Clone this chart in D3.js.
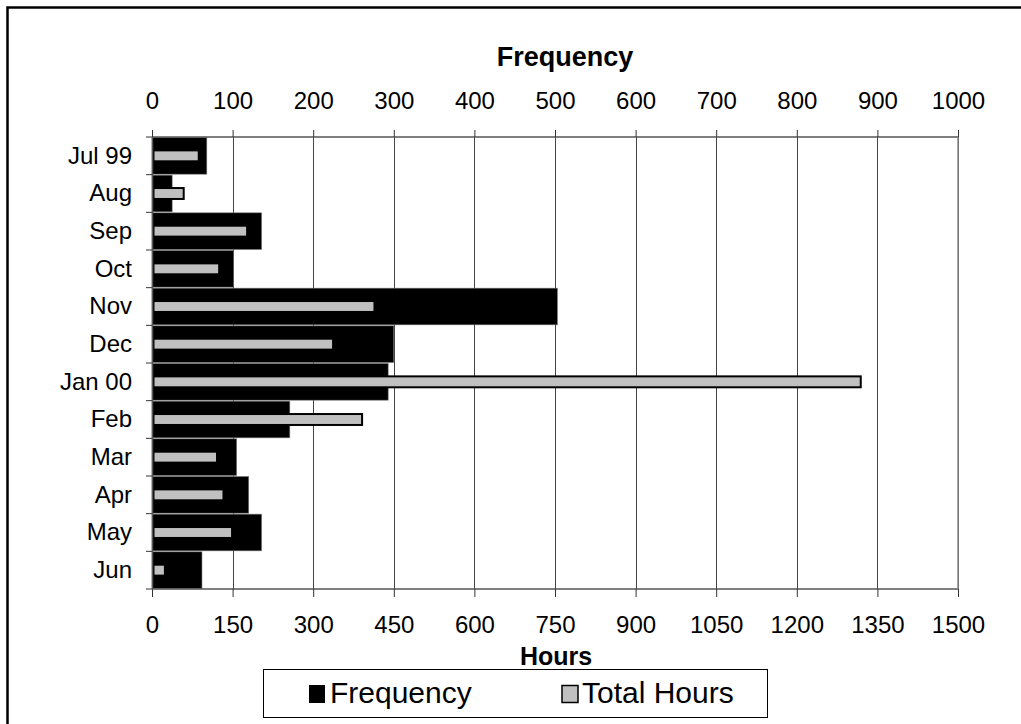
<!DOCTYPE html>
<html><head><meta charset="utf-8">
<script src="https://cdn.jsdelivr.net/npm/d3@7"></script>
<style>body{margin:0;background:#fff}svg{display:block}text{font-family:"Liberation Sans",Arial,sans-serif}</style>
</head><body>
<svg id="c" width="1021" height="724"></svg>
<script>
const categories = ["Jul 99","Aug","Sep","Oct","Nov","Dec","Jan 00","Feb","Mar","Apr","May","Jun"];
const frequency = [68, 25, 136, 101, 503, 300, 293, 171, 105, 120, 136, 62];
const totalHours = [87, 59, 177, 125, 414, 337, 1319, 391, 121, 133, 149, 24];
const freqTicks = [0,100,200,300,400,500,600,700,800,900,1000];
const hourTicks = [0,150,300,450,600,750,900,1050,1200,1350,1500];

(function(){
const svg = d3.select("#c");
const L = 152, R = 958, T = 137, B = 589;
const xF = d3.scaleLinear().domain([0,1000]).range([L,R]);
const xH = d3.scaleLinear().domain([0,1500]).range([L,R]);
const y = d3.scaleBand().domain(categories).range([T,B]).padding(0);

// outer frame
svg.append("rect").attr("x",7.5).attr("y",7.5).attr("width",1030).attr("height",740)
  .attr("fill","none").attr("stroke","#000").attr("stroke-width",2.5);

// gridlines
svg.append("g").selectAll("line").data(freqTicks.slice(1)).join("line")
  .attr("x1",d=>Math.round(xF(d))+0.5).attr("x2",d=>Math.round(xF(d))+0.5)
  .attr("y1",T).attr("y2",B).attr("stroke","#444").attr("stroke-width",1);

// black frequency bars
svg.append("g").selectAll("rect").data(categories).join("rect")
  .attr("x",xF(0)).attr("y",d=>y(d)+0.5).attr("height",y.bandwidth()-1)
  .attr("width",(d,i)=>xF(frequency[i])-xF(0))
  .attr("fill","#000").attr("stroke","#777").attr("stroke-width",0.6);

// gray total hours bars
const gh = y.bandwidth()*0.29;
svg.append("g").selectAll("rect").data(categories).join("rect")
  .attr("x",xH(0)+1.5).attr("y",d=>y(d)+y.bandwidth()/2-gh/2)
  .attr("height",gh).attr("width",(d,i)=>xH(totalHours[i])-xH(0)-1.5)
  .attr("fill","#c0c0c0").attr("stroke","#000").attr("stroke-width",2);

// top axis
const gTop = svg.append("g").attr("transform",`translate(0,${T})`)
  .call(d3.axisTop(xF).tickValues(freqTicks).tickSize(7).tickPadding(21).tickFormat(d3.format("d")));
// bottom axis
const gBot = svg.append("g").attr("transform",`translate(0,${B})`)
  .call(d3.axisBottom(xH).tickValues(hourTicks).tickSize(7).tickPadding(20).tickFormat(d3.format("d")));
// left axis
const gLeft = svg.append("g").attr("transform",`translate(${L},0)`)
  .call(d3.axisLeft(y).tickSize(0).tickPadding(20));
[gTop,gBot,gLeft].forEach(g=>{
  g.select(".domain").attr("stroke","#555").attr("stroke-width",1.5);
  g.selectAll(".tick line").attr("stroke","#333");
  g.selectAll("text").attr("font-size",24).attr("fill","#000")
   .style("font-family",'"Liberation Sans",Arial,sans-serif');
});
gBot.selectAll(".tick line").attr("y2",8);
gTop.select(".domain").attr("d",`M${L},0H${R}`);
gBot.select(".domain").attr("d",`M${L},0H${R}`);
// left ticks at band boundaries
svg.append("g").selectAll("line").data(d3.range(categories.length+1)).join("line")
  .attr("x1",L-6).attr("x2",L).attr("y1",i=>T+i*y.step()).attr("y2",i=>T+i*y.step())
  .attr("stroke","#333");
// right border of plot
svg.append("line").attr("x1",R).attr("x2",R).attr("y1",T).attr("y2",B).attr("stroke","#888").attr("stroke-width",1.5);

// titles
svg.append("text").attr("x",565).attr("y",66).attr("text-anchor","middle")
  .attr("font-size",27).attr("font-weight","bold").text("Frequency");
svg.append("text").attr("x",556).attr("y",665).attr("text-anchor","middle")
  .attr("font-size",25).attr("font-weight","bold").text("Hours");

// legend
const lg = svg.append("g");
lg.append("rect").attr("x",263.5).attr("y",669.5).attr("width",504).attr("height",48)
  .attr("fill","#fff").attr("stroke","#000").attr("stroke-width",1);
lg.append("rect").attr("x",309).attr("y",685).attr("width",16).attr("height",18).attr("fill","#000");
lg.append("text").attr("x",330).attr("y",703).attr("font-size",30).text("Frequency");
lg.append("rect").attr("x",562).attr("y",685.5).attr("width",16).attr("height",17)
  .attr("fill","#c0c0c0").attr("stroke","#000").attr("stroke-width",1.5);
lg.append("text").attr("x",582).attr("y",703).attr("font-size",30).text("Total Hours");
})();
</script>
</body></html>
